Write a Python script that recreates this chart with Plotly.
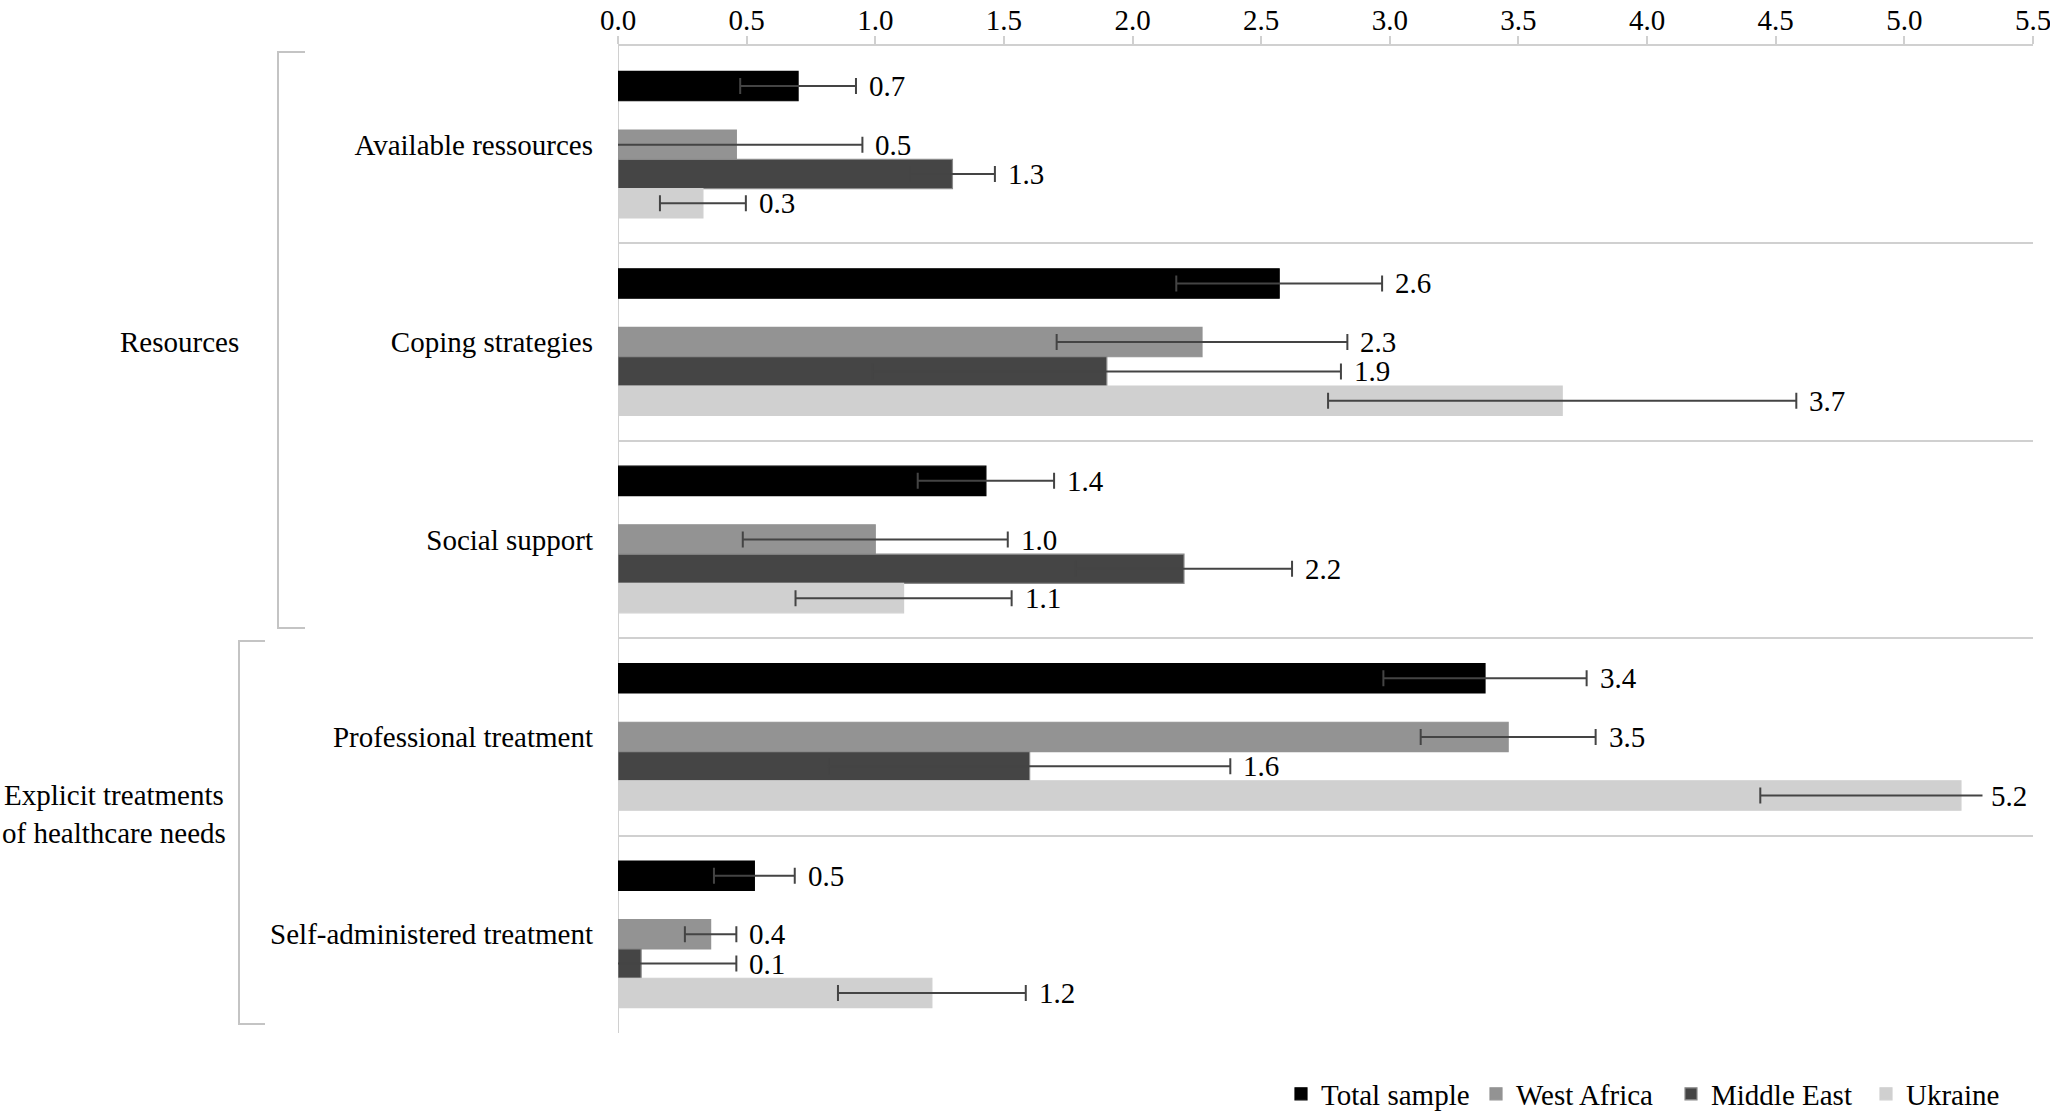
import plotly.graph_objects as go

# ---------------- data ----------------
categories = ["Available ressources", "Coping strategies", "Social support",
              "Professional treatment", "Self-administered treatment"]
series_names = ["Total sample", "West Africa", "Middle East", "Ukraine"]

total_sample = [0.70, 2.57, 1.43, 3.37, 0.53]
west_africa = [0.46, 2.27, 1.00, 3.46, 0.36]
middle_east = [1.30, 1.90, 2.20, 1.60, 0.09]
ukraine = [0.33, 3.67, 1.11, 5.22, 1.22]

total_err = [0.225, 0.40, 0.265, 0.395, 0.157]
west_africa_err = [0.49, 0.565, 0.515, 0.34, 0.10]
middle_east_err = [0.165, 0.91, 0.42, 0.78, 0.37]
ukraine_err = [0.167, 0.91, 0.42, 0.78, 0.365]

x_ticks = [0.0, 0.5, 1.0, 1.5, 2.0, 2.5, 3.0, 3.5, 4.0, 4.5, 5.0, 5.5]

group_names = ["Resources", "Explicit treatments<br>of healthcare needs"]

# ---------------- style / layout ----------------
colors = ["#000000", "#939393", "#454545", "#d0d0d0"]
line_colors = ["#000000", "#939393", "#8a8a8a", "#d0d0d0"]
err_color = "#444444"
slots = [-2, 0, 1, 2]          # slot -1 is an empty gap in each group
slot_w = 0.1485
FONT = "Liberation Serif"
FS = 29
XMAX = 5.5

W, H = 2050, 1111
L, R, T, B = 618, 2033, 46, 1033


def px_x(px):
    return (px - L) / (R - L)


def px_y(py):
    return (B - py) / (B - T)


values = [total_sample, west_africa, middle_east, ukraine]
errors = [total_err, west_africa_err, middle_east_err, ukraine_err]

fig = go.Figure()
annotations = []
for s, name in enumerate(series_names):
    ys = [i + slots[s] * slot_w for i in range(len(categories))]
    fig.add_trace(go.Bar(
        name=name, orientation="h",
        x=values[s], y=ys, width=slot_w,
        marker=dict(color=colors[s], line=dict(color=line_colors[s], width=1.2)),
        error_x=dict(type="data", array=errors[s], symmetric=True,
                     color=err_color, thickness=2, width=8),
        hoverinfo="x+name",
    ))
    for v, e, y in zip(values[s], errors[s], ys):
        hi = v + e
        txt = f"{v:.1f}"
        if hi > XMAX:
            annotations.append(dict(x=XMAX, y=y, xref="x", yref="y", text=txt,
                                    showarrow=False, xanchor="right", xshift=3,
                                    bgcolor="white", borderpad=8,
                                    font=dict(family=FONT, size=FS, color="black")))
        else:
            annotations.append(dict(x=hi, y=y, xref="x", yref="y", text=txt,
                                    showarrow=False, xanchor="left", xshift=11,
                                    font=dict(family=FONT, size=FS, color="black")))

# group labels
annotations.append(dict(x=px_x(179), y=1, xref="paper", yref="y", text=group_names[0],
                        showarrow=False, xanchor="center",
                        font=dict(family=FONT, size=FS, color="black")))
annotations.append(dict(x=px_x(114), y=3.39, xref="paper", yref="y", text=group_names[1],
                        showarrow=False, xanchor="center", align="center",
                        font=dict(family=FONT, size=FS, color="black")))


# brackets
def bracket(x_line, x_end, y_top, y_bot):
    return dict(type="path", xref="paper", yref="paper",
                path=(f"M {px_x(x_end)},{px_y(y_top)} L {px_x(x_line)},{px_y(y_top)} "
                      f"L {px_x(x_line)},{px_y(y_bot)} L {px_x(x_end)},{px_y(y_bot)}"),
                line=dict(color="#c4c4c4", width=2))


shapes = [bracket(278, 305, 52, 628), bracket(239, 265, 641, 1024)]

n = len(categories)
fig.update_layout(
    width=W, height=H,
    margin=dict(l=L, r=W - R, t=T, b=H - B, pad=0, autoexpand=False),
    plot_bgcolor="white", paper_bgcolor="white",
    barmode="overlay",
    showlegend=True,
    legend=dict(orientation="h", x=px_x(2061), xanchor="right",
                y=px_y(1094), yanchor="middle",
                font=dict(family=FONT, size=FS, color="black"),
                traceorder="normal", itemwidth=30, bgcolor="rgba(0,0,0,0)",
                entrywidth=150, entrywidthmode="pixels"),
    font=dict(family=FONT, size=FS, color="black"),
    xaxis=dict(side="top", range=[0, XMAX], tickvals=x_ticks,
               ticktext=[f"{t:.1f}" for t in x_ticks],
               showgrid=False, zeroline=False, automargin=False,
               showline=True, linecolor="#d0d0d0", linewidth=2,
               ticks="outside", ticklen=8, tickcolor="#d0d0d0", tickwidth=2,
               tickfont=dict(family=FONT, size=FS, color="black"),
               ticklabelstandoff=-6, ticklabeloverflow="allow", fixedrange=True),
    xaxis2=dict(overlaying="x", side="top", matches="x", range=[0, XMAX],
                tickvals=x_ticks, showticklabels=False, showgrid=False,
                zeroline=False, showline=False, automargin=False,
                ticks="inside", ticklen=8, tickcolor="#d0d0d0", tickwidth=2),
    yaxis=dict(range=[n - 0.5, -0.5], tickvals=list(range(n)), ticktext=categories,
               showgrid=False, zeroline=False, showline=False, ticks="",
               automargin=False,
               tickfont=dict(family=FONT, size=FS, color="black"),
               ticklabelstandoff=24,
               minor=dict(tickmode="array",
                          tickvals=[i + 0.5 for i in range(-1, n)],
                          showgrid=True, gridcolor="#d0d0d0", gridwidth=2, ticks=""),
               fixedrange=True),
    annotations=annotations,
    shapes=shapes + [dict(type="line", xref="x", yref="paper", x0=0, x1=0, y0=0, y1=1,
                          line=dict(color="#d0d0d0", width=2), layer="below")],
)

fig.write_html("out.html", config={"displayModeBar": False},
               post_script="document.body.style.margin='0';document.body.style.overflow='hidden';")
